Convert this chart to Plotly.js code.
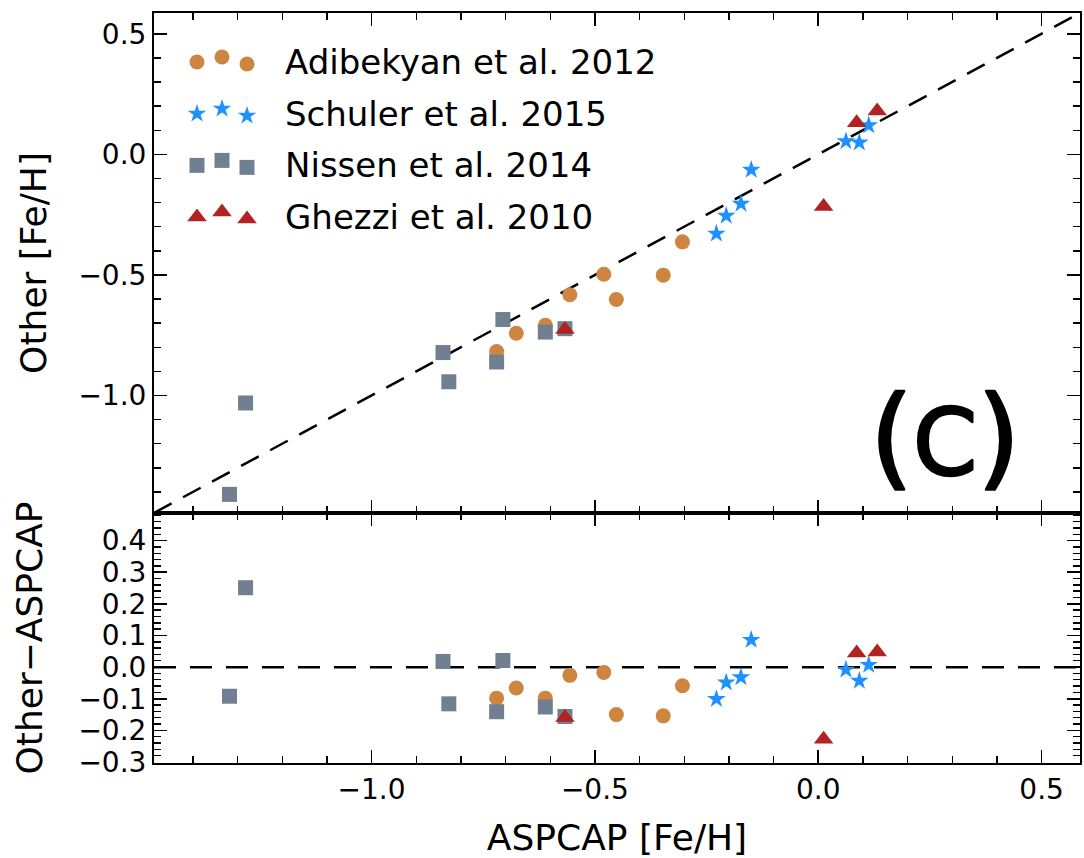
<!DOCTYPE html>
<html>
<head>
<meta charset="utf-8">
<script src="https://cdn.plot.ly/plotly-3.0.1.min.js"></script>
<style>
  html, body { margin: 0; padding: 0; background: #ffffff; }
  #chart { width: 1084px; height: 858px; }
</style>
</head>
<body>
<div id="chart"></div>
<script>
// [Fe/H] from each literature source against the ASPCAP value
const sourceNames = ["Adibekyan et al. 2012", "Schuler et al. 2015", "Nissen et al. 2014", "Ghezzi et al. 2010"];

const aspcapAdibekyan = [-0.720, -0.676, -0.611, -0.556, -0.480, -0.452, -0.347, -0.304];
const otherAdibekyan  = [-0.818, -0.742, -0.709, -0.582, -0.497, -0.602, -0.501, -0.363];

const aspcapSchuler = [-0.228, -0.206, -0.173, -0.150, 0.062, 0.092, 0.113];
const otherSchuler  = [-0.329, -0.255, -0.205, -0.064, 0.054, 0.049, 0.120];

const aspcapNissen = [-1.318, -1.282, -0.840, -0.827, -0.706, -0.720, -0.611, -0.567];
const otherNissen  = [-1.410, -1.031, -0.822, -0.943, -0.685, -0.861, -0.737, -0.723];

const aspcapGhezzi = [0.012, 0.086, 0.132, -0.567];
const otherGhezzi  = [-0.216, 0.131, 0.180, -0.726];

// marker styling per source
const symbols = ["circle", "star", "square", "triangle-up"];
const colors  = ["#CD853F", "#1E90FF", "#708090", "#B22222"];
const sizes   = [15, 14, 15, 17];

const aspcapSets = [aspcapAdibekyan, aspcapSchuler, aspcapNissen, aspcapGhezzi];
const otherSets  = [otherAdibekyan, otherSchuler, otherNissen, otherGhezzi];

const FONT = "DejaVu Sans";
const fullRange = [-1.487, 0.586];
const residRange = [-0.303, 0.487];

const traces = [];
sourceNames.forEach((name, i) => {
  const marker = { symbol: symbols[i], color: colors[i], size: sizes[i], line: { width: 0 } };
  traces.push({
    type: "scatter", mode: "markers", name: name, showlegend: false,
    x: aspcapSets[i], y: otherSets[i], xaxis: "x", yaxis: "y", marker: marker
  });
  traces.push({
    type: "scatter", mode: "markers", name: name, showlegend: false,
    x: aspcapSets[i],
    y: otherSets[i].map((v, k) => v - aspcapSets[i][k]),
    xaxis: "x2", yaxis: "y2", marker: marker
  });
});

// key block in the upper-left corner: three markers per entry, then the label
const keyOrigin = { x: 197, y: 62 };
const keyRowStep = 51.7;
const keyDx = [0, 25, 50];
const keyDy = [0, -5, 2];
const keyAnnotations = [];
sourceNames.forEach((name, i) => {
  const rowY = keyOrigin.y + i * keyRowStep;
  traces.push({
    type: "scatter", mode: "markers", showlegend: false, hoverinfo: "skip",
    x: keyDx.map(d => keyOrigin.x + d),
    y: keyDy.map(d => rowY + d),
    xaxis: "x3", yaxis: "y3", cliponaxis: false,
    marker: { symbol: symbols[i], color: colors[i], size: sizes[i], line: { width: 0 } }
  });
  keyAnnotations.push({
    xref: "x3", yref: "y3", x: 283, y: rowY, xanchor: "left", yanchor: "middle",
    text: name, showarrow: false, font: { family: FONT, size: 34, color: "#000" }
  });
});

// empty traces so the top/right tick-only axes get drawn
[["x4", "y"], ["x5", "y2"], ["x", "y4"], ["x2", "y5"]].forEach(([xa, ya]) => {
  traces.push({ type: "scatter", mode: "markers", x: [], y: [], xaxis: xa, yaxis: ya, showlegend: false, hoverinfo: "skip" });
});

const majorTick = { ticks: "inside", ticklen: 13, tickwidth: 1.6, tickcolor: "#000" };
function minorTicks(step) {
  return { ticks: "inside", dtick: step, tick0: 0, ticklen: 7, tickwidth: 1.4, tickcolor: "#000" };
}

function axisBase(extra) {
  return Object.assign({
    showgrid: false, zeroline: false,
    showline: true, linecolor: "#000", linewidth: 2, mirror: true,
    tickfont: { family: FONT, size: 28, color: "#000" },
    tickformat: ".1f"
  }, majorTick, extra);
}

// tick-only axes on the top and right edges of each panel
function edgeTicks(extra) {
  return Object.assign({
    showgrid: false, zeroline: false, showline: false, showticklabels: false
  }, majorTick, extra);
}

const layout = {
  width: 1084, height: 858,
  margin: { l: 154, r: 4, t: 13, b: 95 },
  paper_bgcolor: "#ffffff", plot_bgcolor: "rgba(0,0,0,0)",
  showlegend: false,
  font: { family: FONT, color: "#000" },
  xaxis: axisBase({
    domain: [0, 1], anchor: "y", range: fullRange, tick0: 0, dtick: 0.5,
    showticklabels: false, minor: minorTicks(0.1)
  }),
  yaxis: axisBase({
    domain: [0.3334, 1], anchor: "x", range: fullRange, tick0: 0, dtick: 0.5,
    minor: minorTicks(0.1),
    title: { text: "Other [Fe/H]", font: { family: FONT, size: 36, color: "#000" }, standoff: 21 }
  }),
  xaxis2: axisBase({
    domain: [0, 1], anchor: "y2", range: fullRange, tick0: 0, dtick: 0.5,
    minor: minorTicks(0.1),
    title: { text: "ASPCAP [Fe/H]", font: { family: FONT, size: 36, color: "#000" }, standoff: 24 }
  }),
  yaxis2: axisBase({
    domain: [0, 0.3333], anchor: "x2", range: residRange, tick0: 0, dtick: 0.1,
    minor: minorTicks(0.02),
    title: { text: "Other\u2212ASPCAP", font: { family: FONT, size: 36, color: "#000" }, standoff: 25 }
  }),
  // pixel-space overlay for the key block and the panel tag
  xaxis3: { overlaying: "x", anchor: "y3", range: [154, 1080], visible: false, fixedrange: true },
  yaxis3: { overlaying: "y", anchor: "x3", range: [513, 13], visible: false, fixedrange: true },
  xaxis4: edgeTicks({ overlaying: "x", anchor: "y", side: "top", range: fullRange, tick0: 0, dtick: 0.5, minor: minorTicks(0.1) }),
  xaxis5: edgeTicks({ overlaying: "x2", anchor: "y2", side: "top", range: fullRange, tick0: 0, dtick: 0.5, minor: minorTicks(0.1) }),
  yaxis4: edgeTicks({ overlaying: "y", anchor: "x", side: "right", range: fullRange, tick0: 0, dtick: 0.5, minor: minorTicks(0.1) }),
  yaxis5: edgeTicks({ overlaying: "y2", anchor: "x2", side: "right", range: residRange, tick0: 0, dtick: 0.1, minor: minorTicks(0.02) }),
  shapes: [
    { type: "line", xref: "x", yref: "y", x0: fullRange[0], y0: fullRange[0], x1: fullRange[1], y1: fullRange[1],
      line: { color: "#000", width: 2.5, dash: "20px,13px" }, layer: "below" },
    { type: "line", xref: "x2", yref: "y2", x0: fullRange[0], y0: 0, x1: fullRange[1], y1: 0,
      line: { color: "#000", width: 2.5, dash: "22px,14px" }, layer: "below" }
  ],
  annotations: keyAnnotations.concat([
    { xref: "x3", yref: "y3", x: 945, y: 437, xanchor: "center", yanchor: "middle",
      text: "(<span style=\"font-size:92px\">C</span>)", showarrow: false,
      font: { family: FONT, size: 110, color: "#000" } }
  ])
};

Plotly.newPlot("chart", traces, layout, { staticPlot: true, displayModeBar: false }).then(gd => {
  // heavier strokes for the panel tag
  gd.querySelectorAll(".annotation-text").forEach(t => {
    if (t.textContent === "(C)") {
      t.style.stroke = "#000";
      t.style.strokeWidth = "2.5px";
      t.style.strokeLinejoin = "round";
    }
  });
});
</script>
</body>
</html>
